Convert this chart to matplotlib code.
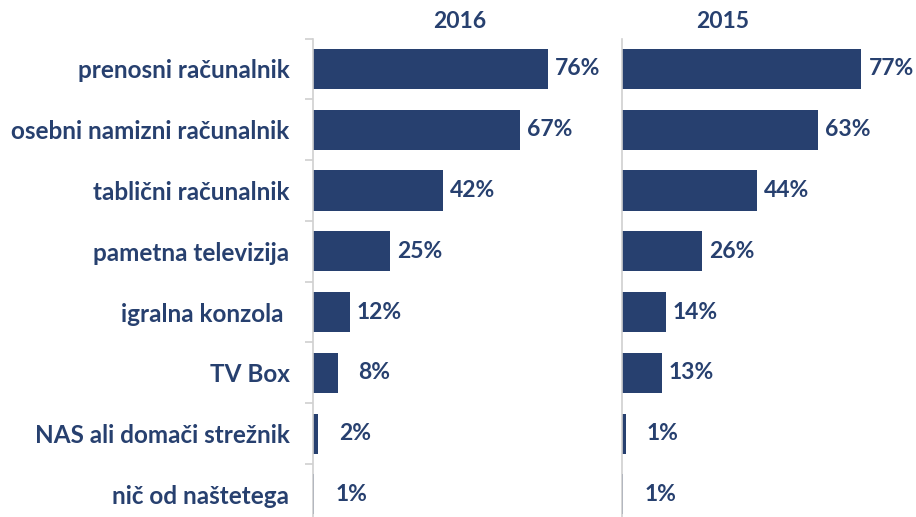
import matplotlib.pyplot as plt
import numpy as np

categories = ['prenosni računalnik', 'osebni namizni računalnik', 'tablični računalnik',
              'pametna televizija', 'igralna konzola ', 'TV Box',
              'NAS ali domači strežnik', 'nič od naštetega']
years = ['2016', '2015']
vals_2016 = [76, 67, 42, 25, 12, 8, 1.6, 0.4]
vals_2015 = [77.5, 63.5, 43.7, 25.9, 14.2, 12.9, 1.3, 0.4]
labels_2016 = ['76%', '67%', '42%', '25%', '12%', '8%', '2%', '1%']
labels_2015 = ['77%', '63%', '44%', '26%', '14%', '13%', '1%', '1%']

navy = '#27406F'
grey = '#D0D0D0'
plt.rcParams['font.family'] = ['Lato', 'DejaVu Sans']
fs = 16.5

W, H = 916, 517
fig = plt.figure(figsize=(W / 100, H / 100), dpi=100)

top = 1 - 38.6 / H
bot = 1 - 524.7 / H
ax1 = fig.add_axes([313 / W, bot, 287 / W, top - bot])
ax2 = fig.add_axes([622 / W, bot, 287 / W, top - bot])

y = np.arange(len(categories))
xmax = 287 / 3.09

panels = [(ax1, vals_2016, labels_2016, years[0], 460),
          (ax2, vals_2015, labels_2015, years[1], 723)]
for ax, vals, labs, yr, cx in panels:
    ax.barh(y, vals, height=0.66, color=navy)
    for yi, v, lab in zip(y, vals, labs):
        # short labels sit a digit further out, as in the original
        off = 5 if len(lab) > 2 else 15
        ax.annotate(lab, (v, yi), xytext=(off, 0), textcoords='offset points',
                    va='center', ha='left', color=navy, fontsize=fs, fontweight='bold')
    ax.set_xlim(0, xmax)
    ax.set_ylim(len(categories) - 0.5, -0.5)
    for s in ['top', 'right', 'bottom']:
        ax.spines[s].set_visible(False)
    ax.spines['left'].set_color(grey)
    ax.spines['left'].set_linewidth(1.2)
    ax.set_xticks([])
    fig.text(cx / W, 1 - 22 / H, yr, ha='center', va='center',
             color=navy, fontsize=fs, fontweight='bold')

ax1.set_yticks(y)
ax1.set_yticklabels(categories, color=navy, fontsize=17.5, fontweight='bold')
ax1.tick_params(axis='y', which='major', length=0, pad=17)
ax1.set_yticks(np.arange(-0.5, len(categories), 1), minor=True)
ax1.tick_params(axis='y', which='minor', length=6, color=grey, width=1.2)

ax2.set_yticks([])

fig.savefig('out.png', dpi=100)
